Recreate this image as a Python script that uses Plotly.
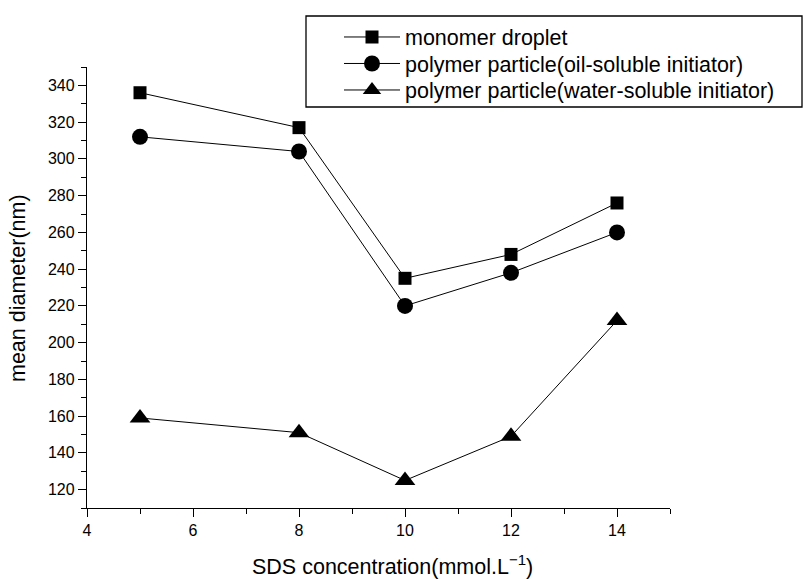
import plotly.graph_objects as go

x_vals = [5, 8, 10, 12, 14]
monomer_droplet = [336, 317, 235, 248, 276]
oil_soluble = [312, 304, 220, 238, 260]
water_soluble = [159, 151, 125, 149, 212]

names = ["monomer droplet",
         "polymer particle(oil-soluble initiator)",
         "polymer particle(water-soluble initiator)"]
symbols = ["square", "circle", "triangle-up"]
sizes = [13, 16, 18]
legend_ids = ["legend", "legend2", "legend3"]
legend_rows = [37, 63.5, 90]
x_title = "SDS concentration(mmol.L<sup>−1</sup>)"
y_title = "mean diameter(nm)"

L, R, T, B = 87, 133, 67, 71
W, H = 803, 579
pw, ph = W - L - R, H - T - B


def px(x):
    return (x - L) / pw


def py(y):
    return (H - B - y) / ph


fig = go.Figure()
for ys, nm, sym, sz, lg in zip([monomer_droplet, oil_soluble, water_soluble],
                               names, symbols, sizes, legend_ids):
    fig.add_trace(go.Scatter(
        x=x_vals, y=ys, name=nm, mode="lines+markers",
        line=dict(color="black", width=1),
        marker=dict(symbol=sym, size=sz, color="black"),
        legend=lg,
    ))

axis_common = dict(
    showline=True, linecolor="black", linewidth=1.3,
    ticks="outside", ticklen=8, tickcolor="black", tickwidth=1.3,
    showgrid=False, zeroline=False, mirror=False,
    tickfont=dict(family="Liberation Sans, Arial", size=16, color="black"),
)

legend_layouts = {}
for lg, row in zip(legend_ids, legend_rows):
    legend_layouts[lg] = dict(
        xref="container", yref="container",
        x=339 / W, y=1 - row / H, xanchor="left", yanchor="middle",
        bgcolor="rgba(0,0,0,0)", borderwidth=0,
        font=dict(size=21.5, color="black"),
        itemwidth=56,
    )

fig.update_layout(
    width=W, height=H,
    paper_bgcolor="white", plot_bgcolor="white",
    margin=dict(l=L, r=R, t=T, b=B, autoexpand=False),
    font=dict(family="Liberation Sans, Arial", color="black"),
    xaxis=dict(range=[4, 15], dtick=2, tick0=4,
               minor=dict(dtick=1, ticks="outside", ticklen=5, tickcolor="black", tickwidth=1.3),
               **axis_common),
    yaxis=dict(range=[110, 350], dtick=20, tick0=120,
               minor=dict(dtick=10, ticks="outside", ticklen=5, tickcolor="black", tickwidth=1.3),
               **axis_common),
    shapes=[dict(type="rect", xref="paper", yref="paper",
                 x0=px(306), x1=px(802), y0=py(107), y1=py(16),
                 line=dict(color="black", width=1.3), fillcolor="white",
                 layer="above")],
    annotations=[
        dict(text=x_title, xref="paper", yref="paper", x=px(392), y=py(565),
             xanchor="center", yanchor="middle", showarrow=False,
             font=dict(size=21.5, color="black")),
        dict(text=y_title, xref="paper", yref="paper", x=px(18), y=py(288),
             xanchor="center", yanchor="middle", showarrow=False, textangle=-90,
             font=dict(size=21.5, color="black")),
    ],
    showlegend=True,
    **legend_layouts,
)

fig.write_html("out.html", post_script="document.body.style.margin='0';",
               config={"displayModeBar": False})
